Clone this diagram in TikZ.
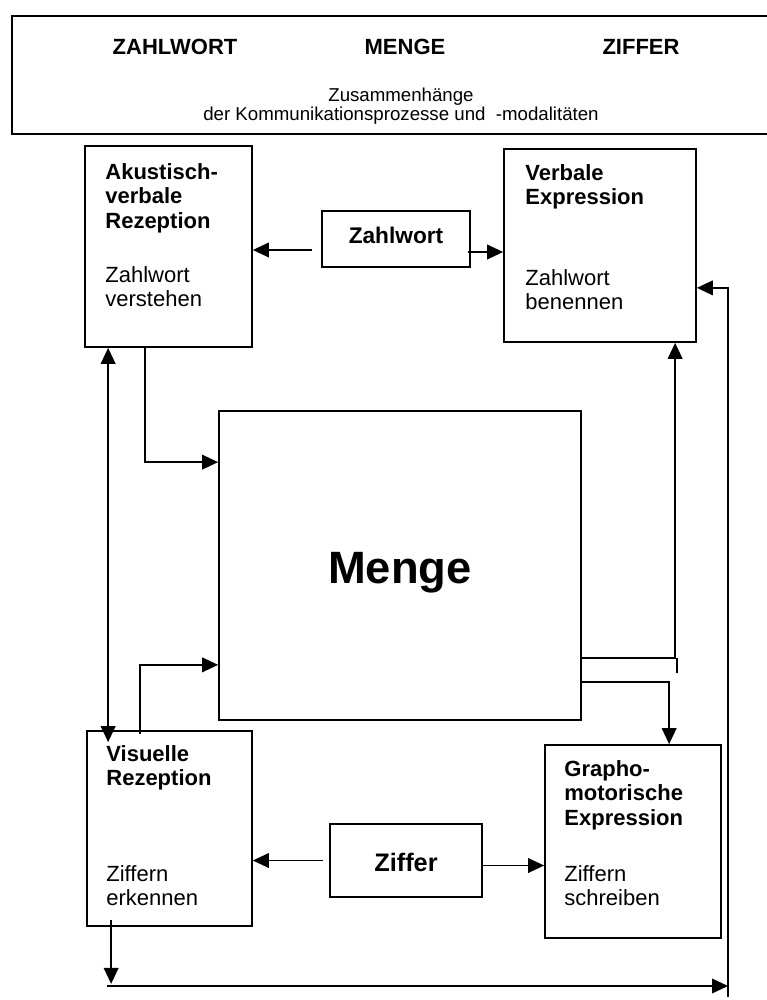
\documentclass[tikz,border=0pt]{standalone}
\usepackage{fontspec}
\setmainfont{Liberation Sans}
\usetikzlibrary{arrows.meta,fit,calc}

\tikzset{
  box/.style={draw, line width=1.3pt, inner sep=0pt},
  lin/.style={line width=1.2pt},
  arr/.style={lin, -{Triangle[length=12pt,width=11pt]}},
  boxhead/.style={anchor=north west, inner sep=0pt, align=left,
    font=\bfseries\fontsize{16.5}{18.4}\selectfont},
  boxbody/.style={anchor=north west, inner sep=0pt, align=left,
    font=\fontsize{16.5}{18.4}\selectfont},
  title/.style={font=\bfseries\fontsize{16.5}{18.4}\selectfont},
}

\begin{document}
\begin{tikzpicture}[x=0.75pt,y=-0.75pt]
    \useasboundingbox (0,0) rectangle (767,1000);

    % title box
    \node[box, fit={(12,16) (780,134)}] (head) {};
    \node[title] (hzw) at (175,47) {ZAHLWORT};
    \node[title] (hme) at (405,47) {MENGE};
    \node[title] (hzf) at (641,47) {ZIFFER};
    \node[align=center, font=\fontsize{14}{14.5}\selectfont] (hsub) at (401,106) {Zusammenh\"ange\\der Kommunikationsprozesse und \ -modalit\"aten};

    % boxes
    \node[box, fit={(85,146) (252,347)}] (akv) {};
    \node[box, fit={(504,149) (696,342)}] (vex) {};
    \node[box, fit={(87,731) (252,926)}] (vis) {};
    \node[box, fit={(545,745) (721,938)}] (gme) {};
    \node[box, fit={(219,411) (581,720)}] (menge) {};
    \node[box, fit={(322,211) (470,267)}] (zw) {};
    \node[box, fit={(330,824) (482,897)}] (zf) {};

    % box texts
    \node[anchor=base, font=\bfseries\fontsize{34}{40}\selectfont] (mengetxt) at ($(menge.center)+(0,18)$) {Menge};
    \node[anchor=base, font=\bfseries\fontsize{17}{20}\selectfont] (zwtxt) at ($(zw.center)+(0,4)$) {Zahlwort};
    \node[anchor=base, font=\bfseries\fontsize{19}{22}\selectfont] (zftxt) at ($(zf.center)+(0,11)$) {Ziffer};
    \node[boxhead] (akvh) at ($(akv.north west)+(21,18)$) {Akustisch-\\verbale\\Rezeption};
    \node[boxbody] (akvb) at ($(akv.north west)+(21,121)$) {Zahlwort\\verstehen};
    \node[boxhead] (vexh) at ($(vex.north west)+(22,16)$) {Verbale\\Expression};
    \node[boxbody] (vexb) at ($(vex.north west)+(22,121)$) {Zahlwort\\benennen};
    \node[boxhead] (vish) at ($(vis.north west)+(20,15)$) {Visuelle\\Rezeption};
    \node[boxbody] (visb) at ($(vis.north west)+(20,135)$) {Ziffern\\erkennen};
    \node[boxhead] (gmeh) at ($(gme.north west)+(20,16)$) {Grapho-\\motorische\\Expression};
    \node[boxbody] (gmeb) at ($(gme.north west)+(20,121)$) {Ziffern\\schreiben};

    % connectors
    \draw[arr] ($(zw.west)+(-9,11)$) coordinate (a1) -- (a1 -| akv.east);
    \draw[arr] ($(zw.east)+(-3,13)$) coordinate (a2) -- (a2 -| vex.west);
    \draw[lin, {Triangle[length=12pt,width=11pt]}-{Triangle[length=12pt,width=11pt]}]
        ($(akv.south west)+(24,0)$) -- ($(vis.north west)+(22,12)$);
    \draw[arr] ($(akv.south west)+(61,-2)$) |- ($(menge.north west)+(0,52)$);
    \draw[arr] ($(vis.north west)+(54,4)$) |- ($(menge.south west)+(0,-56)$);
    \draw[arr] ($(menge.south east)+(0,-63)$) -| ($(vex.south west)+(172,0)$);
    \draw[lin] ($(menge.south east)+(95,-63)$) -- ++(0,15);
    \draw[arr] ($(menge.south east)+(0,-39)$) -| ($(gme.north west)+(125,0)$);
    \draw[arr] ($(zf.west)+(-6,0)$) -- (zf.west -| vis.east);
    \draw[arr] ($(zf.east)+(0,5)$) coordinate (a3) -- (a3 -| gme.west);

    % return line
    \coordinate (lr) at (728,997);
    \coordinate (bl) at (107,986);
    \draw[arr] ($(vis.south west)+(25,-7)$) -- ++(0,64);
    \draw[arr] (bl) -- (bl -| lr);
    \draw[arr] (lr) |- ($(vex.south east)+(0,-55)$);
\end{tikzpicture}
\end{document}
